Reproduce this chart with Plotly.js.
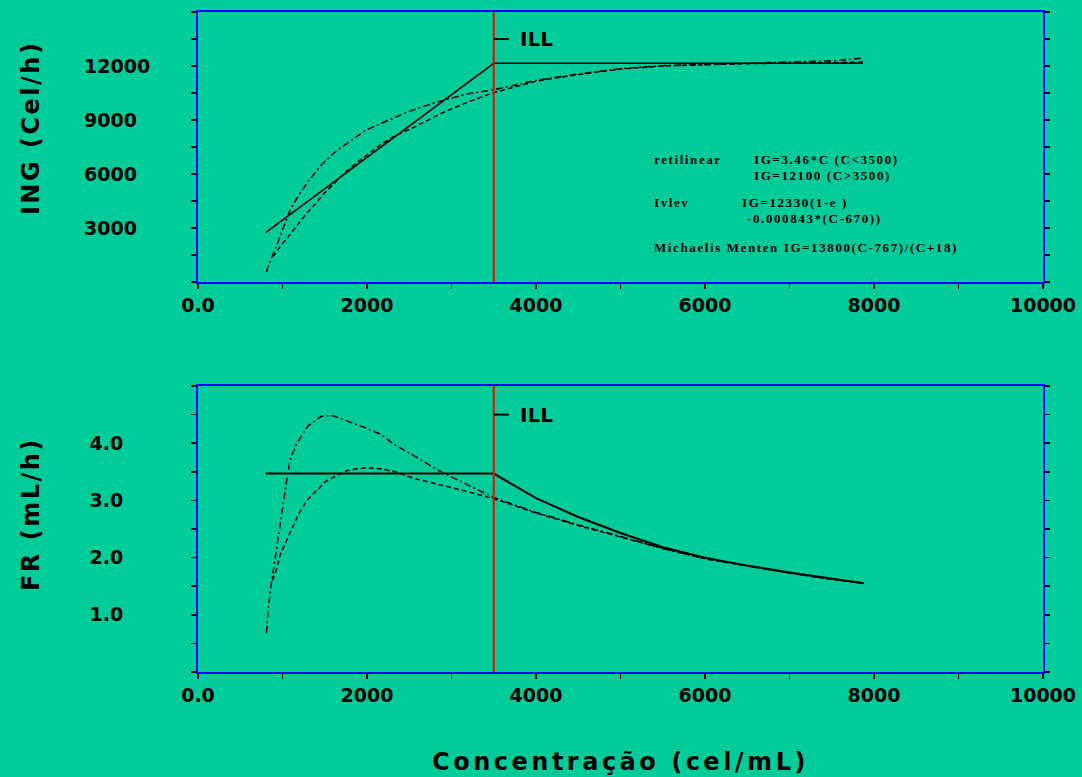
<!DOCTYPE html>
<html><head><meta charset="utf-8">
<script src="https://cdn.plot.ly/plotly-3.0.1.min.js"></script>
<style>
body{margin:0;background:#00CC99}
.xtitle,.x2title{letter-spacing:3.5px}
text.annotation-text[style*="24px"]{letter-spacing:2.5px}
text.annotation-text[style*="Serif"]{letter-spacing:1.6px}
</style>
</head><body><div id="chart" style="width:1082px;height:777px"></div>
<script>
// ---- Top panel: ING (Cel/h) vs concentration ----
const retX = [800, 3500, 7870];
const retING = [2740, 12150, 12150];

const mmX = [810, 830, 870, 930, 990, 1050, 1090, 1170, 1300, 1460, 1600, 1780, 1980, 2250, 2500, 2800, 3200, 3500, 4000, 4500, 5000, 5500, 6000, 6500, 7000, 7500, 7880];
const mmING = [550, 880, 1340, 2000, 2770, 3500, 4000, 4650, 5570, 6500, 7140, 7760, 8420, 8980, 9480, 9960, 10460, 10680, 11200, 11560, 11850, 12020, 12100, 12160, 12220, 12290, 12440];

const obsX = [880, 930, 970, 1030, 1110, 1190, 1290, 1390, 1500, 1620, 1760, 1860, 2000, 2170, 2330, 2570, 2880, 3200, 3500, 4000, 4500, 5000, 5500, 6000, 6500, 7000, 7500, 7880];
const obsING = [1400, 1650, 1960, 2280, 2750, 3250, 3830, 4340, 4960, 5510, 6160, 6560, 7070, 7670, 8110, 8630, 9370, 10010, 10520, 11150, 11520, 11830, 12000, 12080, 12130, 12160, 12180, 12220];

// ---- Bottom panel: FR (mL/h) vs concentration ----
const retFRX = [800, 3500, 4000, 4250, 4500, 5000, 5500, 6000, 6500, 7000, 7500, 7880];
const retFR = [3.47, 3.47, 3.04, 2.87, 2.71, 2.43, 2.18, 2.00, 1.86, 1.74, 1.63, 1.55];

const mmFRX = [810, 830, 870, 930, 990, 1050, 1090, 1170, 1300, 1460, 1600, 1780, 1980, 2170, 2330, 2570, 2840, 3040, 3500, 4000, 4500, 5000, 5500, 6000, 6500, 7000, 7500, 7880];
const mmFR = [0.68, 1.1, 1.57, 2.17, 2.82, 3.35, 3.71, 4.0, 4.3, 4.47, 4.48, 4.38, 4.27, 4.15, 3.97, 3.77, 3.53, 3.38, 3.05, 2.79, 2.57, 2.37, 2.16, 1.98, 1.85, 1.73, 1.62, 1.55];

const obsFRX = [880, 930, 970, 1030, 1110, 1190, 1290, 1390, 1500, 1620, 1760, 1860, 2000, 2170, 2330, 2570, 2880, 3200, 3500, 4000, 4500, 5000, 5500, 6000, 6500, 7000, 7500, 7880];
const obsFR = [1.60, 1.80, 2.04, 2.23, 2.50, 2.76, 3.00, 3.15, 3.32, 3.42, 3.52, 3.55, 3.57, 3.55, 3.50, 3.38, 3.27, 3.15, 3.03, 2.78, 2.56, 2.36, 2.16, 1.98, 1.85, 1.73, 1.62, 1.55];

// ---- axes ticks / labels ----
const xTickVals = [0, 1000, 2000, 3000, 4000, 5000, 6000, 7000, 8000, 9000, 10000];
const xTickText = ['0.0', '', '2000', '', '4000', '', '6000', '', '8000', '', '10000'];
const yTopTickVals = [0, 1500, 3000, 4500, 6000, 7500, 9000, 10500, 12000, 13500, 15000];
const yTopTickText = ['', '', '3000\u2007', '', '6000\u2007', '', '9000\u2007', '', '12000', '', ''];
const yBotTickVals = [0, 0.5, 1, 1.5, 2, 2.5, 3, 3.5, 4, 4.5, 5];
const yBotTickText = ['', '', '1.0', '', '2.0', '', '3.0', '', '4.0', '', ''];

const illC = 3500;
const illMarkTop = 13500, illMarkBot = 4.5;

const BG = '#00CC99';
const boldFont = {family: 'DejaVu Sans', size: 19, color: '#000', weight: 'bold'};
const serif = {family: 'Liberation Serif', size: 13, color: '#000', weight: 'bold'};
const yTitleFont = {family: 'DejaVu Sans', size: 24, color: '#000', weight: 'bold'};

const lineSolid = {color: '#000', width: 1.6};
const lineDash = {color: '#000', width: 1.5, dash: '5px,3px'};
const lineDashDot = {color: '#000', width: 1.5, dash: '7px,3px,2px,3px'};

const traces = [
  {x: retX, y: retING, xaxis: 'x', yaxis: 'y', mode: 'lines', line: lineSolid, name: 'retilinear'},
  {x: obsX, y: obsING, xaxis: 'x', yaxis: 'y', mode: 'lines', line: lineDash, name: 'observado'},
  {x: mmX, y: mmING, xaxis: 'x', yaxis: 'y', mode: 'lines', line: lineDashDot, name: 'Michaelis Menten'},
  {x: retFRX, y: retFR, xaxis: 'x2', yaxis: 'y2', mode: 'lines', line: {color: '#000', width: 2}, name: 'retilinear'},
  {x: obsFRX, y: obsFR, xaxis: 'x2', yaxis: 'y2', mode: 'lines', line: lineDash, name: 'observado'},
  {x: mmFRX, y: mmFR, xaxis: 'x2', yaxis: 'y2', mode: 'lines', line: lineDashDot, name: 'Michaelis Menten'}
];

const axCommon = {
  showgrid: false, zeroline: false, showline: true, linecolor: '#0000FF', linewidth: 2,
  ticks: 'outside', ticklen: 5, tickcolor: '#000', tickwidth: 1.5, tickfont: boldFont
};

const layout = {
  width: 1082, height: 777,
  paper_bgcolor: BG, plot_bgcolor: BG,
  margin: {l: 198, r: 39, t: 12, b: 105},
  showlegend: false,
  xaxis: Object.assign({}, axCommon, {range: [0, 10000], anchor: 'y', mirror: true,
    tickmode: 'array', tickvals: xTickVals, ticktext: xTickText}),
  yaxis: Object.assign({}, axCommon, {range: [0, 15000], domain: [0.591, 1], anchor: 'x', mirror: 'ticks',
    tickmode: 'array', tickvals: yTopTickVals, ticktext: yTopTickText, ticklabelstandoff: 37}),
  xaxis2: Object.assign({}, axCommon, {range: [0, 10000], anchor: 'y2', mirror: true,
    tickmode: 'array', tickvals: xTickVals, ticktext: xTickText,
    title: {text: 'Concentração (cel/mL)', font: {family: 'DejaVu Sans', size: 24, color: '#000', weight: 'bold'}, standoff: 48}}),
  yaxis2: Object.assign({}, axCommon, {range: [0, 5], domain: [0, 0.4333], anchor: 'x2', mirror: 'ticks',
    tickmode: 'array', tickvals: yBotTickVals, ticktext: yBotTickText, ticklabelstandoff: 64}),
  shapes: [
    {type: 'line', xref: 'x', yref: 'y domain', x0: illC, x1: illC, y0: 0, y1: 1, line: {color: '#FF0000', width: 2}},
    {type: 'line', xref: 'x2', yref: 'y2 domain', x0: illC, x1: illC, y0: 0, y1: 1, line: {color: '#FF0000', width: 2}},
    {type: 'line', xref: 'x', yref: 'y', x0: illC, x1: illC + 180, y0: illMarkTop, y1: illMarkTop, line: {color: '#000', width: 2}},
    {type: 'line', xref: 'x2', yref: 'y2', x0: illC, x1: illC + 180, y0: illMarkBot, y1: illMarkBot, line: {color: '#000', width: 2}}
  ],
  annotations: [
    // y-axis titles
    {xref: 'paper', yref: 'paper', x: -0.1976, y: 0.8242, xanchor: 'center', yanchor: 'middle', textangle: -90, showarrow: false, text: 'ING (Cel/h)', font: yTitleFont},
    {xref: 'paper', yref: 'paper', x: -0.1976, y: 0.2394, xanchor: 'center', yanchor: 'middle', textangle: -90, showarrow: false, text: 'FR (mL/h)', font: yTitleFont},
    // ILL markers
    {xref: 'x', yref: 'y', x: illC, y: illMarkTop, xanchor: 'left', xshift: 24, showarrow: false, text: 'ILL', font: {family: 'DejaVu Sans', size: 20, color: '#000', weight: 'bold'}},
    {xref: 'x2', yref: 'y2', x: illC, y: illMarkBot, xanchor: 'left', xshift: 24, showarrow: false, text: 'ILL', font: {family: 'DejaVu Sans', size: 20, color: '#000', weight: 'bold'}},
    // model equations
    {xref: 'x', yref: 'y', x: 5373, y: 6790, xanchor: 'left', showarrow: false, text: 'retilinear', font: serif},
    {xref: 'x', yref: 'y', x: 6556, y: 6790, xanchor: 'left', showarrow: false, text: 'IG=3.46*C (C<3500)', font: serif},
    {xref: 'x', yref: 'y', x: 6556, y: 5900, xanchor: 'left', showarrow: false, text: 'IG=12100 (C>3500)', font: serif},
    {xref: 'x', yref: 'y', x: 5373, y: 4430, xanchor: 'left', showarrow: false, text: 'Ivlev', font: serif},
    {xref: 'x', yref: 'y', x: 6414, y: 4430, xanchor: 'left', showarrow: false, text: 'IG=12330(1-e )', font: serif},
    {xref: 'x', yref: 'y', x: 6473, y: 3540, xanchor: 'left', showarrow: false, text: '-0.000843*(C-670))', font: serif},
    {xref: 'x', yref: 'y', x: 5373, y: 1930, xanchor: 'left', showarrow: false, text: 'Michaelis Menten IG=13800(C-767)/(C+18)', font: serif}
  ]
};

Plotly.newPlot('chart', traces, layout, {displayModeBar: false, staticPlot: true});
</script></body></html>
